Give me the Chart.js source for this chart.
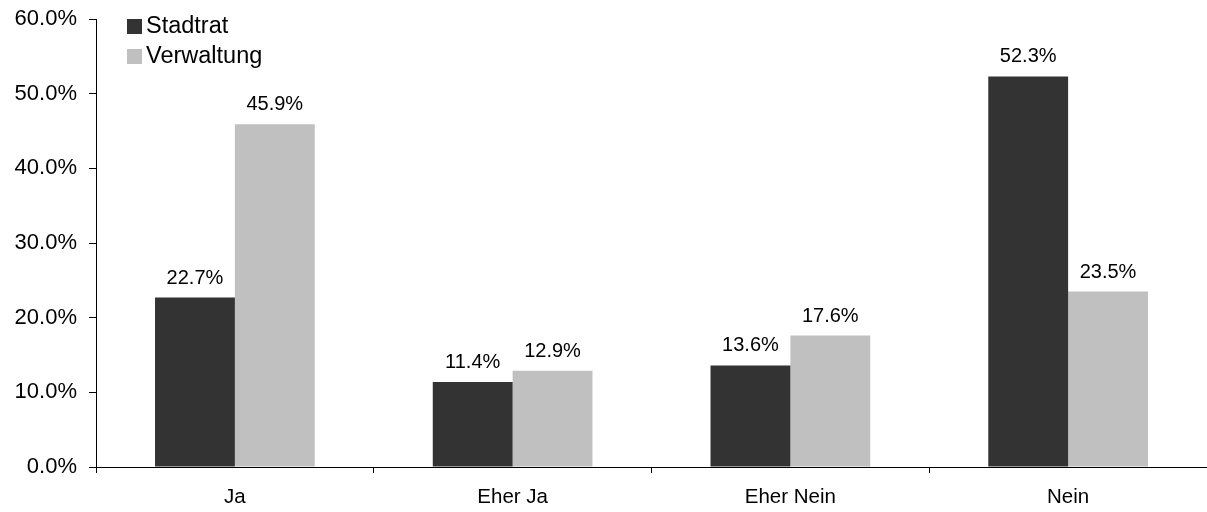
<!DOCTYPE html>
<html>
<head>
<meta charset="utf-8">
<script src="https://cdn.jsdelivr.net/npm/chart.js@4.4.1/dist/chart.umd.min.js"></script>
<style>
  body { margin: 0; background: #fff; }
  #wrap { width: 1207px; height: 512px; position: relative; }
</style>
</head>
<body>
<div id="wrap"><canvas id="myChart"></canvas></div>
<script>
const categories = ['Ja', 'Eher Ja', 'Eher Nein', 'Nein'];
const stadtrat = [22.7, 11.4, 13.6, 52.3];
const verwaltung = [45.9, 12.9, 17.6, 23.5];
const yTicks = [0, 10, 20, 30, 40, 50, 60];

const FONT = '"Liberation Sans", Arial, sans-serif';

// value labels above each bar
const barLabels = {
    id: 'barLabels',
    afterDatasetsDraw(chart) {
        const ctx = chart.ctx;
        ctx.save();
        ctx.font = '20px ' + FONT;
        ctx.fillStyle = '#000';
        ctx.textAlign = 'center';
        ctx.textBaseline = 'alphabetic';
        chart.data.datasets.forEach((ds, i) => {
            chart.getDatasetMeta(i).data.forEach((bar, j) => {
                ctx.fillText(ds.data[j].toFixed(1) + '%', bar.x, bar.y - 14);
            });
        });
        ctx.restore();
    }
};

// stacked legend in the top left corner of the plot
const boxLegend = {
    id: 'boxLegend',
    afterDraw(chart) {
        const ctx = chart.ctx;
        ctx.save();
        ctx.font = '23.5px ' + FONT;
        ctx.textBaseline = 'middle';
        chart.data.datasets.forEach((ds, i) => {
            const y = 19 + i * 30;
            ctx.fillStyle = ds.backgroundColor;
            ctx.fillRect(127, y, 15, 15);
            ctx.fillStyle = '#000';
            ctx.fillText(ds.label, 146, y + 8);
        });
        ctx.restore();
    }
};

const ctx = document.getElementById('myChart').getContext('2d');
new Chart(ctx, {
    type: 'bar',
    data: {
        labels: categories,
        datasets: [{
            label: 'Stadtrat',
            data: stadtrat,
            backgroundColor: '#333333',
            categoryPercentage: 0.575,
            barPercentage: 1.0
        }, {
            label: 'Verwaltung',
            data: verwaltung,
            backgroundColor: '#c0c0c0',
            categoryPercentage: 0.575,
            barPercentage: 1.0
        }]
    },
    options: {
        responsive: true,
        maintainAspectRatio: false,
        animation: false,
        layout: { padding: { top: 19, right: 0, bottom: 0, left: 0 } },
        plugins: {
            legend: { display: false },
            tooltip: { enabled: false }
        },
        scales: {
            x: {
                grid: {
                    offset: true,
                    drawOnChartArea: false,
                    drawTicks: true,
                    tickLength: 6,
                    color: '#000'
                },
                border: { color: '#000', width: 1 },
                ticks: {
                    color: '#000',
                    font: { family: FONT, size: 20.5 },
                    padding: 12
                },
                afterFit(scale) {
                    scale.height = 45;
                    scale.paddingLeft = 0;
                    scale.paddingRight = 0;
                }
            },
            y: {
                min: 0,
                max: 60,
                afterBuildTicks(scale) {
                    scale.ticks = yTicks.map(v => ({ value: v }));
                },
                grid: {
                    drawOnChartArea: false,
                    drawTicks: true,
                    tickLength: 7,
                    color: '#000'
                },
                border: { color: '#000', width: 1 },
                ticks: {
                    color: '#000',
                    font: { family: FONT, size: 22 },
                    padding: 12,
                    callback: v => v.toFixed(1) + '%'
                },
                afterFit(scale) {
                    scale.width = 96;
                    scale.paddingTop = 0;
                    scale.paddingBottom = 0;
                }
            }
        }
    },
    plugins: [barLabels, boxLegend]
});
</script>
</body>
</html>
